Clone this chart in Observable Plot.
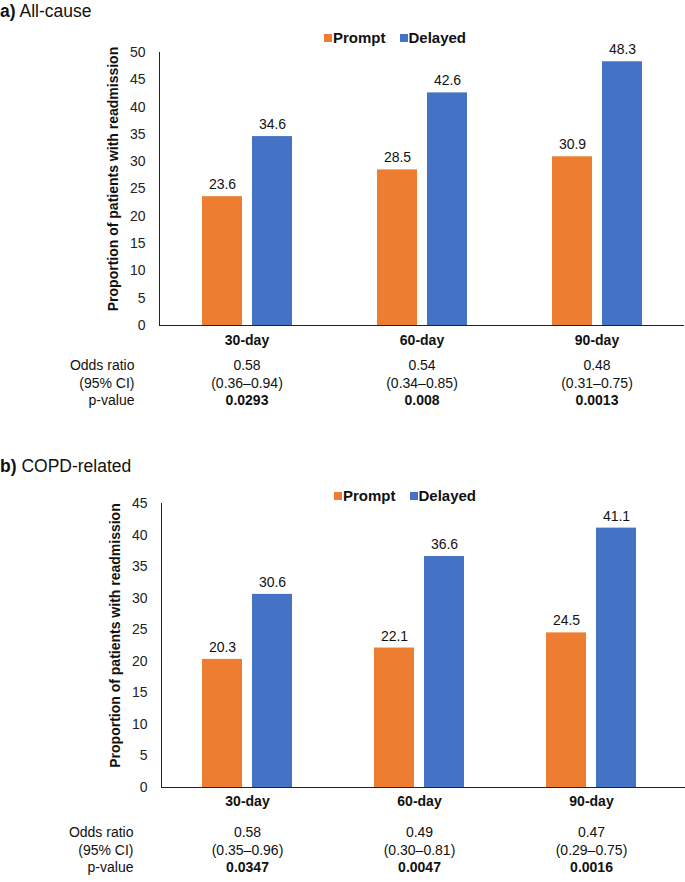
<!DOCTYPE html>
<html>
<head>
<meta charset="utf-8">
<script src="https://cdn.jsdelivr.net/npm/d3@7"></script>
<script src="https://cdn.jsdelivr.net/npm/@observablehq/plot@0.6"></script>
<style>
  html, body { margin: 0; padding: 0; background: #fff; }
  body { font-family: 'Liberation Sans', Arial, sans-serif; color: #111; }
  #wrap { position: relative; width: 685px; height: 882px; overflow: hidden; }
  .title { position: absolute; left: 0; font-size: 17.5px; line-height: 20px; white-space: nowrap; }
  .legend { position: absolute; display: flex; align-items: center; font-size: 15px; font-weight: bold; line-height: 20px; white-space: nowrap; }
  .legend .sw { width: 8px; height: 8px; margin-right: 1px; }
  .legend .item { display: flex; align-items: center; margin-right: 14px; }
  .panel { position: absolute; left: 0; }
</style>
</head>
<body>
<div id="wrap"></div>
<script>
// ---- data ----
const periods = ["30-day", "60-day", "90-day"];
const groups = ["Prompt", "Delayed"];
const colors = ["#ED7D31", "#4472C4"];

// a) All-cause
const promptA = [23.6, 28.5, 30.9];
const delayedA = [34.6, 42.6, 48.3];
const orA = ["0.58", "0.54", "0.48"];
const ciA = ["(0.36–0.94)", "(0.34–0.85)", "(0.31–0.75)"];
const pA = ["0.0293", "0.008", "0.0013"];
const yTicksA = [0, 5, 10, 15, 20, 25, 30, 35, 40, 45, 50];

// b) COPD-related
const promptB = [20.3, 22.1, 24.5];
const delayedB = [30.6, 36.6, 41.1];
const orB = ["0.58", "0.49", "0.47"];
const ciB = ["(0.35–0.96)", "(0.30–0.81)", "(0.29–0.75)"];
const pB = ["0.0347", "0.0047", "0.0016"];
const yTicksB = [0, 5, 10, 15, 20, 25, 30, 35, 40, 45];

const rowLabels = ["Odds ratio", "(95% CI)", "p-value"];
const yTitle = "Proportion of patients with readmission";

// ---- helpers ----
function longData(prompt, delayed) {
  const out = [];
  periods.forEach((p, i) => {
    out.push({period: p, group: groups[0], value: prompt[i]});
    out.push({period: p, group: groups[1], value: delayed[i]});
  });
  return out;
}
function statData(or, ci, pv) {
  return periods.map((p, i) => ({period: p, or: or[i], ci: ci[i], p: pv[i]}));
}

function panel(opts) {
  const data = longData(opts.prompt, opts.delayed);
  const stats = statData(opts.or, opts.ci, opts.p);
  const first = () => periods[0];
  const rows = opts.rowDy;
  return Plot.plot({
    width: 685,
    height: opts.height,
    marginTop: opts.marginTop,
    marginBottom: opts.marginBottom,
    marginLeft: opts.marginLeft,
    marginRight: opts.marginRight,
    style: {fontFamily: "'Liberation Sans', Arial, sans-serif", fontSize: "14px", color: "#222", background: "transparent", overflow: "visible"},
    fx: {domain: periods, padding: 0, axis: null, label: null},
    x: {domain: groups, axis: null, paddingInner: 0.2, paddingOuter: 0.82},
    y: {domain: opts.yDomain, ticks: opts.yTicks, tickSize: 0, tickPadding: 14, line: true, label: null},
    color: {domain: groups, range: colors},
    marks: [
      Plot.barY(data, {fx: "period", x: "group", y: "value", fill: "group"}),
      Plot.ruleY([0], {stroke: "#222", insetRight: -opts.marginRight}),
      Plot.text(data, {fx: "period", x: "group", y: "value", text: d => d.value.toFixed(1), dy: -12, fill: "#111"}),
      Plot.text(stats, {fx: "period", text: "period", frameAnchor: "bottom", dy: rows[0], fontWeight: "bold", fill: "#111"}),
      Plot.text(stats, {fx: "period", text: "or", frameAnchor: "bottom", dy: rows[1], fill: "#111"}),
      Plot.text(stats, {fx: "period", text: "ci", frameAnchor: "bottom", dy: rows[2], fill: "#111"}),
      Plot.text(stats, {fx: "period", text: "p", frameAnchor: "bottom", dy: rows[3], fontWeight: "bold", fill: "#111"}),
      Plot.text([rowLabels[0]], {fx: first, text: d => d, frameAnchor: "bottom-left", textAnchor: "end", dx: opts.rowDx, dy: rows[1], fill: "#111"}),
      Plot.text([rowLabels[1]], {fx: first, text: d => d, frameAnchor: "bottom-left", textAnchor: "end", dx: opts.rowDx, dy: rows[2], fill: "#111"}),
      Plot.text([rowLabels[2]], {fx: first, text: d => d, frameAnchor: "bottom-left", textAnchor: "end", dx: opts.rowDx, dy: rows[3], fill: "#111"}),
      Plot.text([yTitle], {fx: first, text: d => d, frameAnchor: "left", textAnchor: "middle", rotate: -90, dx: -46, dy: -10, fontWeight: "bold", fill: "#111"})
    ]
  });
}

function legend(left, top) {
  const el = document.createElement("div");
  el.className = "legend";
  el.style.left = left + "px";
  el.style.top = top + "px";
  groups.forEach((g, i) => {
    const item = document.createElement("div");
    item.className = "item";
    const sw = document.createElement("div");
    sw.className = "sw";
    sw.style.background = colors[i];
    const t = document.createElement("span");
    t.textContent = g;
    item.appendChild(sw);
    item.appendChild(t);
    el.appendChild(item);
  });
  return el;
}

function title(letter, text, top) {
  const el = document.createElement("div");
  el.className = "title";
  el.style.top = top + "px";
  const b = document.createElement("b");
  b.textContent = letter;
  el.appendChild(b);
  el.appendChild(document.createTextNode(" " + text));
  return el;
}

const wrap = document.getElementById("wrap");

// Panel a
const pa = document.createElement("div");
pa.className = "panel";
pa.style.top = "0px";
pa.appendChild(panel({
  prompt: promptA, delayed: delayedA, or: orA, ci: ciA, p: pA,
  yDomain: [0, 50], yTicks: yTicksA,
  height: 420, marginTop: 52, marginBottom: 95, marginLeft: 158, marginRight: 0,
  rowDy: [19, 44, 62, 79], rowDx: -25
}));
wrap.appendChild(pa);
wrap.appendChild(title("a)", "All-cause", 1));
wrap.appendChild(legend(324, 28));

// Panel b
const pb = document.createElement("div");
pb.className = "panel";
pb.style.top = "440px";
pb.appendChild(panel({
  prompt: promptB, delayed: delayedB, or: orB, ci: ciB, p: pB,
  yDomain: [0, 45], yTicks: yTicksB,
  height: 442, marginTop: 63, marginBottom: 95, marginLeft: 161, marginRight: 8,
  rowDy: [18, 49, 67, 84], rowDx: -28
}));
wrap.appendChild(pb);
wrap.appendChild(title("b)", "COPD-related", 456));
wrap.appendChild(legend(334, 486));
</script>
</body>
</html>
